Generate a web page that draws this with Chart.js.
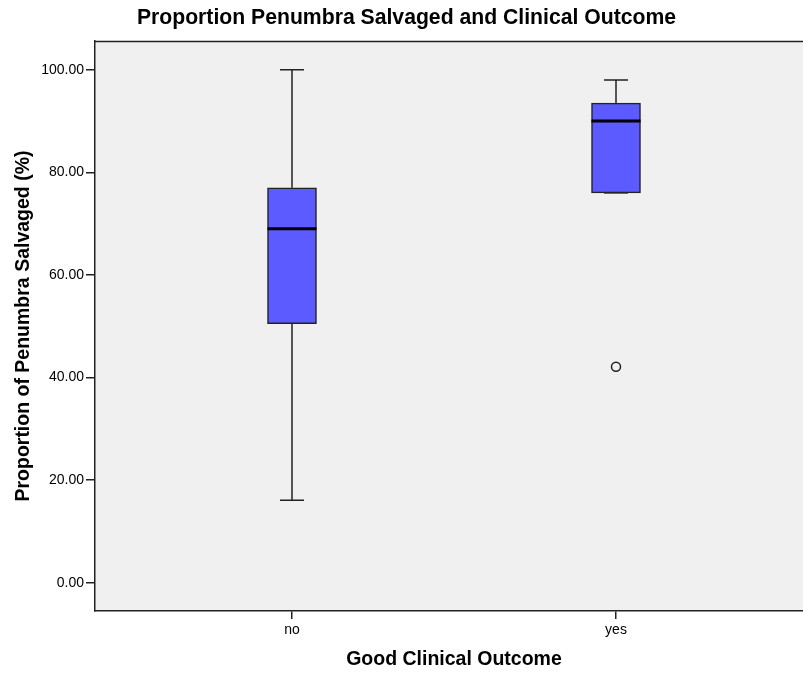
<!DOCTYPE html>
<html>
<head>
<meta charset="utf-8">
<script src="https://cdn.jsdelivr.net/npm/chart.js@4/dist/chart.umd.min.js"></script>
<style>
  html, body { margin: 0; padding: 0; background: #ffffff; overflow: hidden; }
  #wrap { width: 803px; height: 675px; overflow: hidden; position: relative; }
  #inner { width: 813px; height: 675px; position: relative; }
  canvas { display: block; }
</style>
</head>
<body>
<div id="wrap"><div id="inner"><canvas id="c" width="813" height="675"></canvas></div></div>
<script>
// Box-plot summary per outcome group (percent of penumbra salvaged)
const categories = ['no', 'yes'];
const boxMin    = [16.1, 76.0];
const boxQ1     = [50.5, 76.0];
const boxMedian = [69.0, 90.0];
const boxQ3     = [77.0, 93.5];
const boxMax    = [100.0, 98.0];
const outliers  = [[], [42.1]];
const yTicks    = [0, 20, 40, 60, 80, 100];

const FONT = "'Liberation Sans', Arial, sans-serif";
const INK = '#222222';

// category i sits at x = i + 1 on a numeric axis
const catPos = categories.map((_, i) => i + 1);

const boxData = categories.map((_, i) => ({ x: catPos[i], y: [boxQ1[i], boxQ3[i]] }));
const outlierData = [];
outliers.forEach((list, i) => list.forEach(v => outlierData.push({ x: catPos[i], y: v })));

// plot background and top frame line
const frame = {
  id: 'frame',
  beforeDraw(chart) {
    const { ctx, chartArea: a } = chart;
    ctx.save();
    ctx.fillStyle = '#f0f0f0';
    ctx.fillRect(a.left, a.top, a.right - a.left, a.bottom - a.top);
    ctx.strokeStyle = INK;
    ctx.lineWidth = 1.5;
    ctx.beginPath();
    ctx.moveTo(a.left, a.top + 0.5);
    ctx.lineTo(a.right, a.top + 0.5);
    ctx.stroke();
    ctx.restore();
  }
};

// whiskers, caps and median lines drawn through the chart scales
const whiskers = {
  id: 'whiskers',
  beforeDatasetsDraw(chart) {
    const { ctx, scales: { x, y } } = chart;
    ctx.save();
    ctx.strokeStyle = INK;
    ctx.lineWidth = 1.5;
    categories.forEach((_, i) => {
      const px = x.getPixelForValue(catPos[i]);
      const cap = 12;
      [[boxQ3[i], boxMax[i]], [boxQ1[i], boxMin[i]]].forEach(([from, to]) => {
        const y0 = y.getPixelForValue(from);
        const y1 = y.getPixelForValue(to);
        ctx.beginPath();
        ctx.moveTo(px, y0);
        ctx.lineTo(px, y1);
        ctx.moveTo(px - cap, y1);
        ctx.lineTo(px + cap, y1);
        ctx.stroke();
      });
    });
    ctx.restore();
  },
  afterDatasetsDraw(chart) {
    const { ctx, scales: { x, y } } = chart;
    const meta = chart.getDatasetMeta(0);
    ctx.save();
    ctx.strokeStyle = '#000000';
    ctx.lineWidth = 3;
    categories.forEach((_, i) => {
      const bar = meta.data[i];
      const half = bar.width / 2;
      const px = x.getPixelForValue(catPos[i]);
      const py = y.getPixelForValue(boxMedian[i]);
      ctx.beginPath();
      ctx.moveTo(px - half, py);
      ctx.lineTo(px + half, py);
      ctx.stroke();
    });
    ctx.restore();
  }
};

new Chart(document.getElementById('c'), {
  type: 'bar',
  data: {
    datasets: [
      {
        type: 'bar',
        data: boxData,
        backgroundColor: '#5b5bff',
        borderColor: INK,
        borderWidth: 1.5,
        borderSkipped: false,
        barThickness: 49
      },
      {
        type: 'scatter',
        data: outlierData,
        pointStyle: 'circle',
        pointRadius: 4.5,
        pointBorderWidth: 1.5,
        pointBorderColor: INK,
        pointBackgroundColor: 'rgba(0,0,0,0)'
      }
    ]
  },
  options: {
    responsive: false,
    animation: false,
    devicePixelRatio: 1,
    layout: { padding: 0, autoPadding: false },
    plugins: {
      legend: { display: false },
      tooltip: { enabled: false },
      title: {
        display: true,
        text: 'Proportion Penumbra Salvaged and Clinical Outcome',
        color: '#000000',
        font: { family: FONT, size: 21.2, weight: 'bold', lineHeight: 1.2 },
        padding: { top: 5, bottom: 10.6 }
      }
    },
    scales: {
      x: {
        type: 'linear',
        offset: false,
        min: 0.392,
        max: 2.608,
        afterBuildTicks(scale) { scale.ticks = catPos.map(v => ({ value: v })); },
        afterFit(scale) { scale.height = 64; },
        ticks: {
          callback: (v) => categories[catPos.indexOf(v)] ?? '',
          color: '#000000',
          font: { family: FONT, size: 14 },
          padding: 3,
          maxRotation: 0
        },
        grid: { offset: false, drawOnChartArea: false, drawTicks: true, tickLength: 8, color: INK, lineWidth: 1.5 },
        border: { display: true, color: INK, width: 1.5 },
        title: {
          display: true,
          text: 'Good Clinical Outcome',
          color: '#000000',
          font: { family: FONT, size: 19.5, weight: 'bold', lineHeight: 1.2 },
          padding: { top: 0, bottom: 3.2 }
        }
      },
      y: {
        type: 'linear',
        min: -5.5,
        max: 105.6,
        afterBuildTicks(scale) { scale.ticks = yTicks.map(v => ({ value: v })); },
        afterFit(scale) { scale.width = 95; },
        ticks: {
          callback: (v) => Number(v).toFixed(2),
          color: '#000000',
          font: { family: FONT, size: 14 },
          padding: 2
        },
        grid: { drawOnChartArea: false, drawTicks: true, tickLength: 9, color: INK, lineWidth: 1.5 },
        border: { display: true, color: INK, width: 1.5 },
        title: {
          display: true,
          text: 'Proportion of Penumbra Salvaged (%)',
          color: '#000000',
          font: { family: FONT, size: 19.5, weight: 'bold', lineHeight: 1.2 },
          padding: { top: 12, bottom: 0 }
        }
      }
    }
  },
  plugins: [frame, whiskers]
});
</script>
</body>
</html>
